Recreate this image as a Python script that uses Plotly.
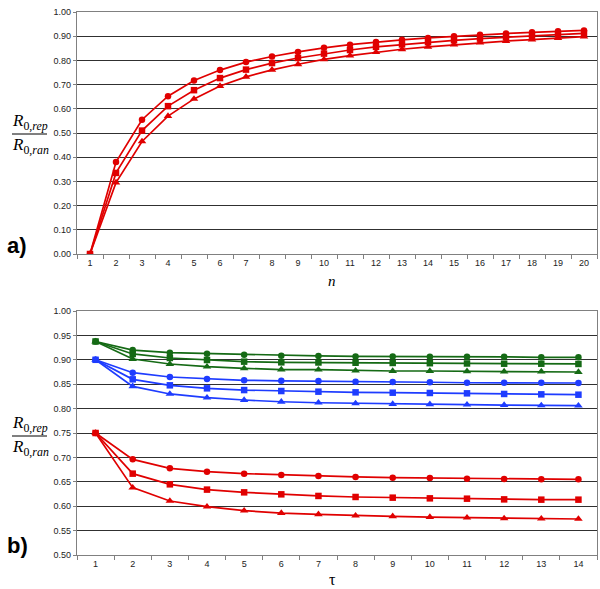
import plotly.graph_objects as go

# ---------- data: panel a ----------
n_vals = list(range(1, 21))
a_circle = [0.0, 0.38, 0.555, 0.652, 0.717, 0.760, 0.793, 0.816, 0.835, 0.852,
            0.865, 0.876, 0.885, 0.893, 0.900, 0.906, 0.911, 0.916, 0.920, 0.924]
a_square = [0.0, 0.335, 0.51, 0.611, 0.677, 0.727, 0.762, 0.789, 0.810, 0.828,
            0.843, 0.856, 0.866, 0.875, 0.883, 0.890, 0.896, 0.902, 0.907, 0.912]
a_triangle = [0.0, 0.295, 0.465, 0.570, 0.641, 0.694, 0.732, 0.761, 0.784, 0.804,
              0.820, 0.834, 0.846, 0.856, 0.865, 0.873, 0.880, 0.886, 0.892, 0.898]

# ---------- data: panel b ----------
tau_vals = list(range(1, 15))
g_circle = [0.9375, 0.920, 0.9145, 0.9125, 0.9105, 0.9085, 0.908, 0.907, 0.907, 0.9065, 0.906, 0.906, 0.905, 0.905]
g_square = [0.9375, 0.912, 0.9037, 0.8996, 0.8962, 0.8948, 0.8945, 0.894, 0.8935, 0.893, 0.8925, 0.892, 0.892, 0.8915]
g_triangle = [0.9375, 0.9016, 0.8914, 0.8859, 0.8825, 0.880, 0.8797, 0.8777, 0.877, 0.877, 0.8765, 0.876, 0.876, 0.875]
b_circle = [0.90, 0.8736, 0.8648, 0.8607, 0.858, 0.857, 0.8566, 0.8552, 0.8545, 0.854, 0.853, 0.853, 0.853, 0.8525]
b_square = [0.90, 0.860, 0.8477, 0.8415, 0.838, 0.836, 0.8347, 0.8333, 0.8326, 0.832, 0.8313, 0.830, 0.8292, 0.8285]
b_triangle = [0.90, 0.8456, 0.830, 0.8224, 0.8176, 0.814, 0.812, 0.8107, 0.8093, 0.8087, 0.808, 0.8073, 0.8066, 0.806]
r_circle = [0.75, 0.696, 0.6776, 0.6708, 0.6667, 0.664, 0.662, 0.660, 0.6585, 0.6578, 0.6565, 0.6557, 0.655, 0.655]
r_square = [0.75, 0.6667, 0.6448, 0.634, 0.6284, 0.6243, 0.621, 0.6189, 0.6175, 0.6161, 0.6154, 0.614, 0.6134, 0.6134]
r_triangle = [0.75, 0.638, 0.6107, 0.599, 0.5908, 0.586, 0.5833, 0.5806, 0.5792, 0.5778, 0.5765, 0.575, 0.5744, 0.5738]

a_ticks = [f"{v:.2f}" for v in [i / 10 for i in range(11)]]
b_ticks = [f"{v:.2f}" for v in [0.5 + i * 0.05 for i in range(11)]]

RED = "#E00000"
GREEN = "#156A15"
BLUE = "#1E3CFF"

sym_size = {"circle": 6.5, "square": 6.5, "triangle-up": 7.5}

fig = go.Figure()


def add(x, y, color, symbol, xa, ya):
    fig.add_trace(go.Scatter(
        x=x, y=y, mode="lines+markers",
        line=dict(color=color, width=1.7),
        marker=dict(color=color, symbol=symbol, size=sym_size[symbol]),
        xaxis=xa, yaxis=ya, showlegend=False, hoverinfo="skip"))


for ys, sym in [(a_triangle, "triangle-up"), (a_square, "square"), (a_circle, "circle")]:
    add(n_vals, ys, RED, sym, "x", "y")

for col, group in [(RED, (r_circle, r_square, r_triangle)),
                   (BLUE, (b_circle, b_square, b_triangle)),
                   (GREEN, (g_circle, g_square, g_triangle))]:
    for ys, sym in zip(group, ["circle", "square", "triangle-up"]):
        add(tau_vals, ys, col, sym, "x2", "y2")

tickfont = dict(family="Liberation Sans, Arial, sans-serif", size=9, color="#222")
axis_common = dict(showline=True, linecolor="#808080", linewidth=1.3, mirror=True,
                   tickfont=tickfont, zeroline=False, automargin=False)

H = 589
mt, mb = 12, 34
ph = H - mt - mb


def py(pix):
    return (H - mb - pix) / ph


fig.update_layout(
    width=600, height=589,
    margin=dict(l=77, r=3, t=mt, b=mb),
    paper_bgcolor="white", plot_bgcolor="white",
    xaxis=dict(type="category", domain=[0, 1], anchor="y",
               range=[-0.5, len(n_vals) - 0.5],
               tickson="boundaries", ticks="outside", ticklen=4, tickcolor="#808080",
               showgrid=False, categoryorder="array",
               categoryarray=n_vals, **axis_common),
    yaxis=dict(domain=[py(254), 1], anchor="x", range=[0, 1.0],
               tickvals=[i / 10 for i in range(11)], ticktext=a_ticks,
               ticks="outside", ticklen=3, tickcolor="#808080",
               showgrid=True, gridcolor="#303030", gridwidth=1, **axis_common),
    xaxis2=dict(type="category", domain=[0, 1], anchor="y2",
                range=[-0.5, len(tau_vals) - 0.5],
                tickson="boundaries", ticks="outside", ticklen=4, tickcolor="#808080",
                showgrid=False, categoryorder="array",
                categoryarray=tau_vals, **axis_common),
    yaxis2=dict(domain=[0, py(311)], anchor="x2", range=[0.5, 1.0],
                tickvals=[0.5 + i * 0.05 for i in range(11)], ticktext=b_ticks,
                ticks="outside", ticklen=3, tickcolor="#808080",
                showgrid=True, gridcolor="#303030", gridwidth=1, **axis_common),
)


def px(pix):
    return (pix - 77) / 520


serif = "Liberation Serif, Times New Roman, serif"
ann = []
shapes = []
for bar_y in (134, 436):
    ann.append(dict(x=px(30), y=py(bar_y - 12), xref="paper", yref="paper",
                    text="<i>R</i><sub>0,<i>rep</i></sub>", showarrow=False,
                    font=dict(family=serif, size=17, color="black"),
                    xanchor="center", yanchor="middle"))
    ann.append(dict(x=px(30), y=py(bar_y + 12), xref="paper", yref="paper",
                    text="<i>R</i><sub>0,<i>ran</i></sub>", showarrow=False,
                    font=dict(family=serif, size=17, color="black"),
                    xanchor="center", yanchor="middle"))
    shapes.append(dict(type="line", xref="paper", yref="paper",
                       x0=px(12), x1=px(47), y0=py(bar_y), y1=py(bar_y),
                       line=dict(color="black", width=1)))

ann.append(dict(x=px(5), y=py(245), xref="paper", yref="paper", text="<b>a)</b>",
                showarrow=False, xanchor="left", yanchor="middle",
                font=dict(family="Liberation Sans, Arial, sans-serif", size=22, color="black")))
ann.append(dict(x=px(5), y=py(545), xref="paper", yref="paper", text="<b>b)</b>",
                showarrow=False, xanchor="left", yanchor="middle",
                font=dict(family="Liberation Sans, Arial, sans-serif", size=22, color="black")))
ann.append(dict(x=px(332), y=py(281), xref="paper", yref="paper", text="<i>n</i>",
                showarrow=False, xanchor="center", yanchor="middle",
                font=dict(family=serif, size=15, color="black")))
ann.append(dict(x=px(332), y=py(589), xref="paper", yref="paper", text="τ",
                showarrow=False, xanchor="center", yanchor="bottom", borderpad=0,
                font=dict(family=serif, size=16, color="black")))

fig.update_layout(annotations=ann, shapes=shapes)

fig.write_html("out.html", config={"displayModeBar": False},
               post_script="document.body.style.margin='0';document.body.style.overflow='hidden';")
